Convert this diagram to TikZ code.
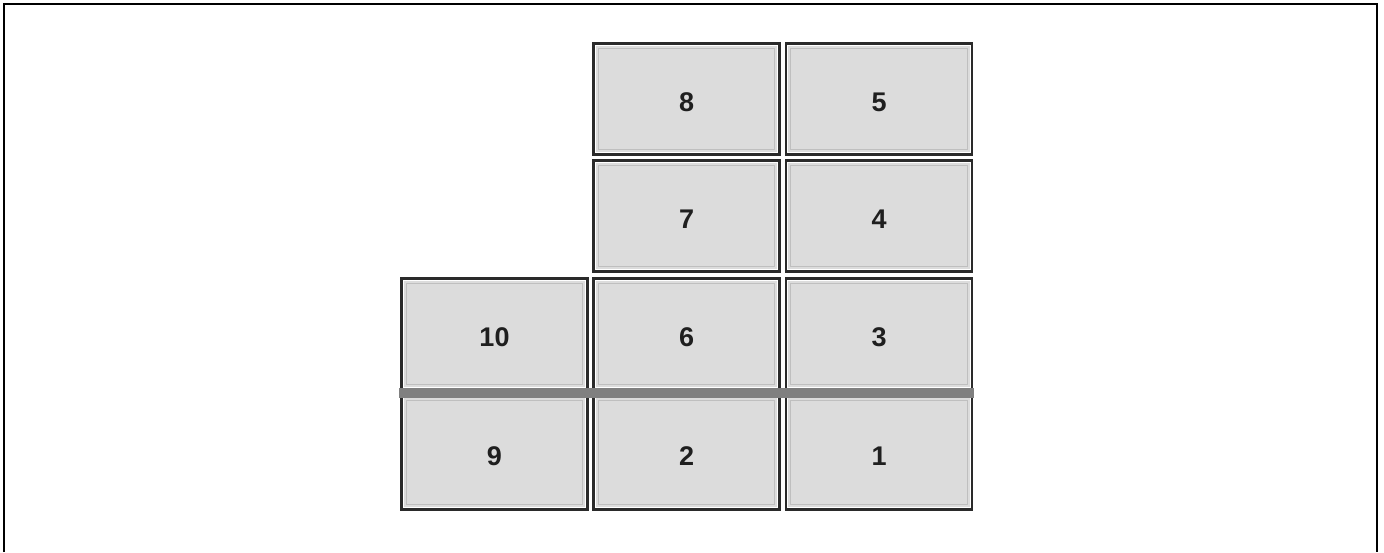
\documentclass[tikz,border=0pt]{standalone}
\usepackage{fontspec}
\setmainfont{Liberation Sans}
\usetikzlibrary{calc}
\definecolor{boxfill}{HTML}{DCDCDC}
\definecolor{boxline}{HTML}{2A2A2A}
\definecolor{bandgray}{HTML}{808080}
\tikzset{
  cell/.style={draw=boxline, line width=2.4pt, fill=boxfill, minimum width=186pt, minimum height=111pt,
    inner sep=0pt, text height=25pt, text depth=0pt,
    font=\fontsize{27}{27}\selectfont\bfseries, text=black!88},
  hilite/.style={draw=white, line width=1.2pt},
  lowlite/.style={draw=black!25, line width=0.8pt},
  frameline/.style={draw=black, line width=2.4pt}
}
\begin{document}
\begin{tikzpicture}[x=1pt,y=-1pt]
\useasboundingbox (0,0) rectangle (1384,552);
\coordinate (fbl) at (4,552);
\coordinate (ftl) at (4,4);
\coordinate (ftr) at (1377,4);
\coordinate (fbr) at (1377,552);
\draw[frameline] (fbl) -- (ftl) -- (ftr) -- (fbr);
% row 1
\node[cell] (b8) at (686.5,99) {8};
\node[cell] (b5) at (879,99) {5};
% row 2
\node[cell] (b7) at (686.5,216) {7};
\node[cell] (b4) at (879,216) {4};
% row 3
\node[cell] (b10) at (494.5,334) {10};
\node[cell] (b6) at (686.5,334) {6};
\node[cell] (b3) at (879,334) {3};
% row 4
\node[cell, minimum height=114pt] (b9) at (494.5,452.5) {9};
\node[cell, minimum height=114pt] (b2) at (686.5,452.5) {2};
\node[cell, minimum height=114pt] (b1) at (879,452.5) {1};
\foreach \n in {1,...,10}{
  \draw[hilite] ($(b\n.north west)+(3,3)$) rectangle ($(b\n.south east)+(-3,-3)$);
  \draw[lowlite] ($(b\n.north west)+(6,6)$) rectangle ($(b\n.south east)+(-6,-6)$);
}
% gray band between rows 3 and 4
\fill[bandgray] ($(b10.south west)+(-1,-2.5)$) rectangle ($(b1.north east)+(1,3.5)$);
\end{tikzpicture}
\end{document}
